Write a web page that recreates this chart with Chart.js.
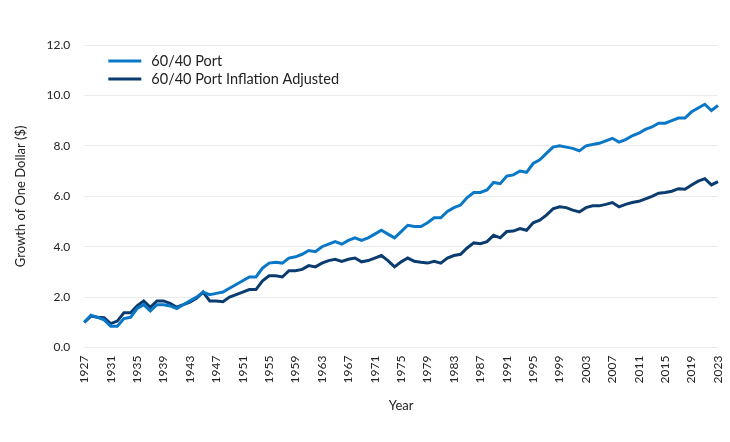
<!DOCTYPE html>
<html>
<head>
<meta charset="utf-8">
<script src="https://cdn.jsdelivr.net/npm/chart.js@4"></script>
<style>
  html, body { margin: 0; padding: 0; background: #fff; }
  #wrap { width: 730px; height: 442px; }
</style>
</head>
<body>
<div id="wrap"><canvas id="chart" width="730" height="442"></canvas></div>
<script>
// Anos 1927..2023
const anos = [];
for (let a = 1927; a <= 2023; a++) anos.push(String(a));

const port6040 = [
  1.00, 1.28, 1.20, 1.10, 0.85, 0.85, 1.15, 1.20, 1.55, 1.70,
  1.45, 1.70, 1.70, 1.65, 1.55, 1.70, 1.85, 2.00, 2.20, 2.10,
  2.15, 2.20, 2.35, 2.50, 2.65, 2.80, 2.80, 3.15, 3.35, 3.38,
  3.35, 3.55, 3.60, 3.70, 3.85, 3.80, 4.00, 4.10, 4.20, 4.10,
  4.25, 4.35, 4.25, 4.35, 4.50, 4.65, 4.50, 4.35, 4.60, 4.85,
  4.80, 4.80, 4.95, 5.15, 5.15, 5.40, 5.55, 5.65, 5.95, 6.15,
  6.15, 6.25, 6.55, 6.50, 6.80, 6.85, 7.00, 6.95, 7.30, 7.45,
  7.70, 7.95, 8.00, 7.95, 7.90, 7.80, 8.00, 8.05, 8.10, 8.20,
  8.30, 8.15, 8.25, 8.40, 8.50, 8.65, 8.75, 8.90, 8.90, 9.00,
  9.10, 9.10, 9.35, 9.50, 9.65, 9.40, 9.60
];

const port6040Real = [
  1.00, 1.25, 1.20, 1.18, 0.95, 1.05, 1.38, 1.38, 1.65, 1.85,
  1.60, 1.85, 1.85, 1.75, 1.60, 1.70, 1.80, 1.95, 2.20, 1.85,
  1.85, 1.82, 2.00, 2.10, 2.20, 2.30, 2.30, 2.65, 2.85, 2.85,
  2.80, 3.05, 3.05, 3.10, 3.25, 3.20, 3.35, 3.45, 3.50, 3.42,
  3.50, 3.55, 3.40, 3.45, 3.55, 3.65, 3.45, 3.20, 3.40, 3.55,
  3.42, 3.38, 3.35, 3.42, 3.35, 3.55, 3.65, 3.70, 3.95, 4.15,
  4.12, 4.20, 4.45, 4.35, 4.60, 4.62, 4.72, 4.65, 4.95, 5.05,
  5.25, 5.50, 5.58, 5.55, 5.45, 5.38, 5.55, 5.62, 5.62, 5.68,
  5.75, 5.58, 5.68, 5.75, 5.80, 5.90, 6.00, 6.12, 6.15, 6.20,
  6.30, 6.28, 6.45, 6.60, 6.70, 6.45, 6.58
];

const nomesSeries = ["60/40 Port", "60/40 Port Inflation Adjusted"];
const coresSeries = ["#0a78c6", "#0b3c70"];

const fonte = "Lato, 'Open Sans', sans-serif";

// Legenda desenhada dentro da área do gráfico
const legendaInterna = {
  id: "legendaInterna",
  afterDraw(chart) {
    const c = chart.ctx;
    const area = chart.chartArea;
    c.save();
    chart.data.datasets.forEach((ds, i) => {
      const y = area.top + 16 + i * 18;
      const x = area.left + 24;
      c.strokeStyle = ds.borderColor;
      c.lineWidth = 3;
      c.beginPath();
      c.moveTo(x, y);
      c.lineTo(x + 33, y);
      c.stroke();
      c.fillStyle = "#222";
      c.font = "14.5px " + fonte;
      c.textBaseline = "middle";
      c.fillText(ds.label, x + 43, y);
    });
    c.restore();
  }
};

new Chart(document.getElementById("chart").getContext("2d"), {
  type: "line",
  data: {
    labels: anos,
    datasets: [
      { label: nomesSeries[0], data: port6040, borderColor: coresSeries[0], borderWidth: 3, pointRadius: 0, tension: 0 },
      { label: nomesSeries[1], data: port6040Real, borderColor: coresSeries[1], borderWidth: 3, pointRadius: 0, tension: 0 }
    ]
  },
  options: {
    responsive: false,
    animation: false,
    layout: { padding: { left: 9, right: 12, top: 45, bottom: 24 } },
    plugins: { legend: { display: false }, tooltip: { enabled: false } },
    scales: {
      x: {
        offset: false,
        grid: { display: false, drawTicks: false },
        border: { display: false },
        title: { display: true, text: "Year", color: "#222", font: { family: fonte, size: 13 }, padding: { top: 7 } },
        afterFit: scale => { scale.paddingRight = 0; },
        ticks: {
          autoSkip: false,
          minRotation: 90,
          maxRotation: 90,
          padding: 8,
          color: "#222",
          font: { family: fonte, size: 12 },
          callback: function (v, i) { return i % 4 === 0 ? anos[i] : null; }
        }
      },
      y: {
        min: 0,
        max: 12,
        grid: { color: "#ebebeb", drawTicks: false },
        border: { display: false },
        title: { display: true, text: "Growth of One Dollar ($)", color: "#222", font: { family: fonte, size: 13 } },
        ticks: {
          stepSize: 2,
          padding: 14,
          color: "#222",
          font: { family: fonte, size: 12 },
          callback: v => v.toFixed(1)
        }
      }
    }
  },
  plugins: [legendaInterna]
});
</script>
</body>
</html>
